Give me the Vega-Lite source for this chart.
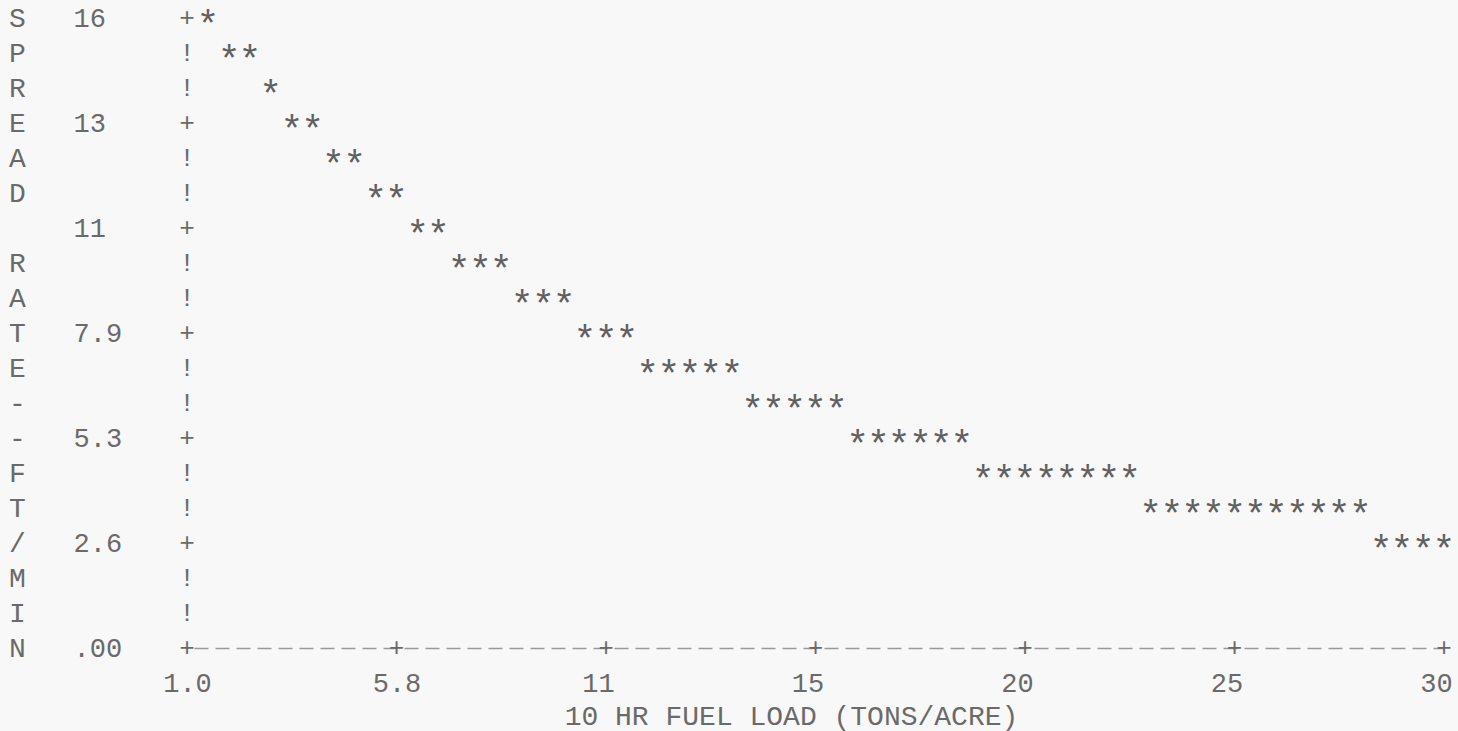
{
  "$schema": "https://vega.github.io/schema/vega-lite/v6.json",
  "autosize": "none",
  "width": 1257,
  "height": 630,
  "padding": {"left": 187, "top": 18, "right": 14, "bottom": 83},
  "background": "#f9f8f8",
  "config": {"view": {"stroke": null}},
  "datasets": {
    "points": [
      {"load": 1.48, "rate": 15.84},
      {"load": 1.97, "rate": 14.96}, {"load": 2.45, "rate": 14.96},
      {"load": 2.93, "rate": 14.08},
      {"load": 3.42, "rate": 13.2}, {"load": 3.90, "rate": 13.2},
      {"load": 4.38, "rate": 12.32}, {"load": 4.87, "rate": 12.32},
      {"load": 5.35, "rate": 11.44}, {"load": 5.83, "rate": 11.44},
      {"load": 6.32, "rate": 10.56}, {"load": 6.80, "rate": 10.56},
      {"load": 7.28, "rate": 9.68}, {"load": 7.77, "rate": 9.68}, {"load": 8.25, "rate": 9.68},
      {"load": 8.73, "rate": 8.8}, {"load": 9.22, "rate": 8.8}, {"load": 9.70, "rate": 8.8},
      {"load": 10.18, "rate": 7.92}, {"load": 10.67, "rate": 7.92}, {"load": 11.15, "rate": 7.92},
      {"load": 11.63, "rate": 7.04}, {"load": 12.12, "rate": 7.04}, {"load": 12.60, "rate": 7.04}, {"load": 13.08, "rate": 7.04}, {"load": 13.57, "rate": 7.04},
      {"load": 14.05, "rate": 6.16}, {"load": 14.53, "rate": 6.16}, {"load": 15.02, "rate": 6.16}, {"load": 15.50, "rate": 6.16}, {"load": 15.98, "rate": 6.16},
      {"load": 16.47, "rate": 5.28}, {"load": 16.95, "rate": 5.28}, {"load": 17.43, "rate": 5.28}, {"load": 17.92, "rate": 5.28}, {"load": 18.40, "rate": 5.28}, {"load": 18.88, "rate": 5.28},
      {"load": 19.37, "rate": 4.4}, {"load": 19.85, "rate": 4.4}, {"load": 20.33, "rate": 4.4}, {"load": 20.82, "rate": 4.4}, {"load": 21.30, "rate": 4.4}, {"load": 21.78, "rate": 4.4}, {"load": 22.27, "rate": 4.4}, {"load": 22.75, "rate": 4.4},
      {"load": 23.23, "rate": 3.52}, {"load": 23.72, "rate": 3.52}, {"load": 24.20, "rate": 3.52}, {"load": 24.68, "rate": 3.52}, {"load": 25.17, "rate": 3.52}, {"load": 25.65, "rate": 3.52}, {"load": 26.13, "rate": 3.52}, {"load": 26.62, "rate": 3.52}, {"load": 27.10, "rate": 3.52}, {"load": 27.58, "rate": 3.52}, {"load": 28.07, "rate": 3.52},
      {"load": 28.55, "rate": 2.64}, {"load": 29.03, "rate": 2.64}, {"load": 29.52, "rate": 2.64}, {"load": 30.00, "rate": 2.64}
    ],
    "yaxis": [
      {"load": 1, "rate": 15.84, "major": true},
      {"load": 1, "rate": 14.96, "major": false},
      {"load": 1, "rate": 14.08, "major": false},
      {"load": 1, "rate": 13.2, "major": true},
      {"load": 1, "rate": 12.32, "major": false},
      {"load": 1, "rate": 11.44, "major": false},
      {"load": 1, "rate": 10.56, "major": true},
      {"load": 1, "rate": 9.68, "major": false},
      {"load": 1, "rate": 8.8, "major": false},
      {"load": 1, "rate": 7.92, "major": true},
      {"load": 1, "rate": 7.04, "major": false},
      {"load": 1, "rate": 6.16, "major": false},
      {"load": 1, "rate": 5.28, "major": true},
      {"load": 1, "rate": 4.4, "major": false},
      {"load": 1, "rate": 3.52, "major": false},
      {"load": 1, "rate": 2.64, "major": true},
      {"load": 1, "rate": 1.76, "major": false},
      {"load": 1, "rate": 0.88, "major": false}
    ],
    "xticks": [
      {"load": 1, "rate": 0},
      {"load": 5.8333, "rate": 0},
      {"load": 10.6667, "rate": 0},
      {"load": 15.5, "rate": 0},
      {"load": 20.3333, "rate": 0},
      {"load": 25.1667, "rate": 0},
      {"load": 30, "rate": 0}
    ]
  },
  "encoding": {
    "x": {
      "field": "load",
      "type": "quantitative",
      "scale": {"domain": [1, 30], "nice": false, "zero": false},
      "axis": {
        "values": [1, 5.8333, 10.6667, 15.499, 20.3333, 25.1667, 30],
        "labelExpr": "datum.value < 10 ? format(datum.value, '.1f') : format(datum.value, '.0f')",
        "ticks": false,
        "tickSize": 0,
        "grid": false,
        "domain": true,
        "domainDash": [14, 7],
        "domainDashOffset": -7,
        "domainColor": "#999999",
        "domainWidth": 1.5,
        "labelFont": "Liberation Mono",
        "labelFontSize": 27,
        "labelColor": "#6a6a6a",
        "labelBaseline": "middle",
        "labelAlign": "center",
        "labelPadding": 35,
        "labelOffset": {"condition": {"test": "datum.value >= 10", "value": -8}, "value": 0},
        "labelFlush": false,
        "labelOverlap": false,
        "labelBound": false,
        "title": "10 HR FUEL LOAD (TONS/ACRE)",
        "titleFont": "Liberation Mono",
        "titleFontSize": 28,
        "titleFontWeight": "normal",
        "titleColor": "#6a6a6a",
        "titleX": 604,
        "titleY": 68,
        "titleAlign": "center",
        "titleBaseline": "middle"
      }
    },
    "y": {
      "field": "rate",
      "type": "quantitative",
      "scale": {"domain": [0, 15.84], "nice": false, "zero": false},
      "axis": {
        "values": [0, 2.64, 5.28, 7.92, 10.56, 13.2, 15.84],
        "labelExpr": "datum.value == 0 ? '.00' : datum.value < 10 ? format(datum.value, '.1f') : format(datum.value, '.0f')",
        "ticks": false,
        "tickSize": 0,
        "grid": false,
        "domain": false,
        "labelFont": "Liberation Mono",
        "labelFontSize": 27,
        "labelColor": "#6a6a6a",
        "labelBaseline": "middle",
        "labelAlign": "left",
        "labelPadding": 114,
        "labelFlush": false,
        "labelOverlap": false,
        "labelBound": false,
        "title": ["S", "P", "R", "E", "A", "D", "\u2800", "R", "A", "T", "E", "-", "-", "F", "T", "/", "M", "I", "N"],
        "titleFont": "Liberation Mono",
        "titleFontSize": 28,
        "titleFontWeight": "normal",
        "titleColor": "#6a6a6a",
        "titleAngle": 0,
        "titleAlign": "center",
        "titleBaseline": "middle",
        "titleLineHeight": 35,
        "titleX": -170,
        "titleY": 0
      }
    }
  },
  "layer": [
    {
      "data": {"name": "points"},
      "mark": {"type": "text", "text": "*", "font": "Liberation Mono", "fontSize": 38, "color": "#606060", "align": "center", "baseline": "middle", "dy": 8}
    },
    {
      "data": {"name": "yaxis"},
      "mark": {"type": "text", "font": "Liberation Mono", "fontSize": 26, "color": "#6a6a6a", "align": "center", "baseline": "middle"},
      "encoding": {
        "text": {"condition": {"test": "datum.major", "value": "+"}, "value": "!"}
      }
    },
    {
      "data": {"name": "xticks"},
      "mark": {"type": "text", "text": "+", "font": "Liberation Mono", "fontSize": 26, "color": "#6a6a6a", "align": "center", "baseline": "middle"}
    }
  ]
}
